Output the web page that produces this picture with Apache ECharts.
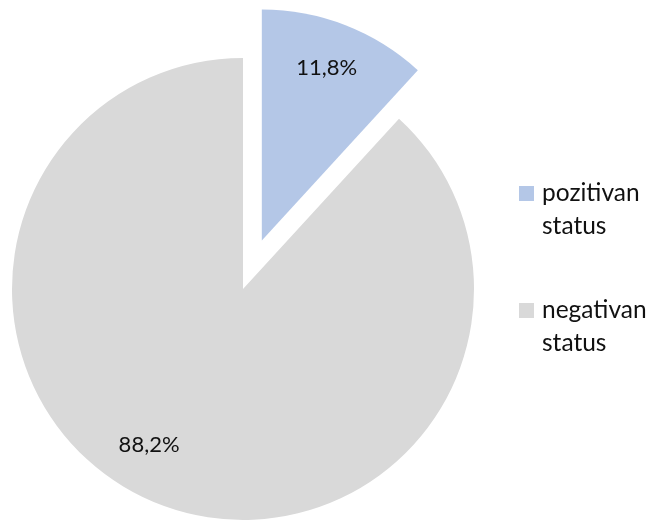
<!DOCTYPE html>
<html><head><meta charset="utf-8">
<script src="https://cdn.jsdelivr.net/npm/echarts@6/dist/echarts.min.js"></script>
<style>html,body{margin:0;padding:0;background:#fff}#c{width:656px;height:521px}</style>
</head><body><div id="c"></div>
<script>
var categories = ['pozitivan status', 'negativan status'];
var values = [11.8, 88.2];
var colors = ['#B4C7E7', '#D9D9D9'];
var labelOffsets = [[22, -62], [-51, 45]];

var chart = echarts.init(document.getElementById('c'), null, {renderer: 'canvas'});
var data = categories.map(function (n, i) {
  return {
    name: n, value: values[i], selected: i === 0,
    itemStyle: {color: colors[i]},
    label: {offset: labelOffsets[i]},
    select: {label: {offset: labelOffsets[i]}, itemStyle: {color: colors[i]}}
  };
});
chart.setOption({
  animation: false,
  legend: {
    orient: 'vertical', left: 514, top: 139,
    itemWidth: 15, itemHeight: 15, itemGap: 18,
    icon: 'rect', selectedMode: false,
    formatter: function (n) { return ' \n' + n.replace(' ', '\n'); },
    textStyle: {fontFamily: 'Lato', fontSize: 24.5, color: '#111', lineHeight: 33, padding: [0, 0, 0, 3]}
  },
  series: [{
    type: 'pie', center: [243, 289], radius: 231,
    startAngle: 90, clockwise: true,
    selectedMode: 'single', selectedOffset: 52,
    emphasis: {disabled: true}, silent: true,
    label: {position: 'inside', fontFamily: 'Lato', fontSize: 22, color: '#111',
      formatter: function (p) { return p.value.toFixed(1).replace('.', ',') + '%'; }},
    labelLine: {show: false},
    data: data
  }]
});
</script></body></html>
